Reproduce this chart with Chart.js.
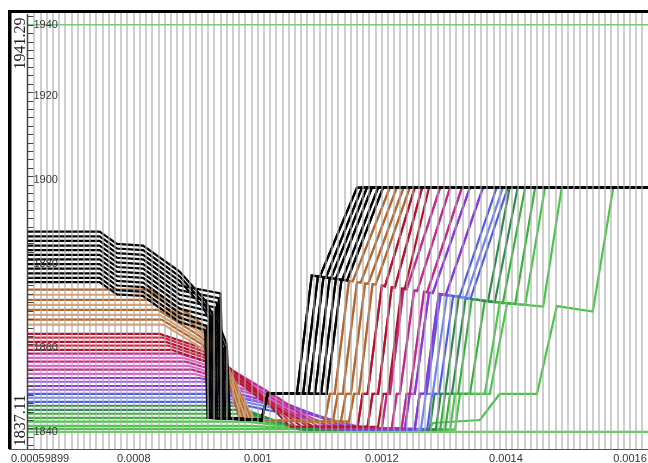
<!DOCTYPE html>
<html>
<head>
<meta charset="utf-8">
<script src="https://cdn.jsdelivr.net/npm/chart.js@4.4.0/dist/chart.umd.min.js"></script>
<style>
html,body{margin:0;padding:0;background:#fff;}
#wrap{width:648px;height:463px;}
</style>
</head>
<body>
<div id="wrap"><canvas id="c" width="648" height="463"></canvas></div>
<script>
// Temperature runs: each run is a list of [x, T] vertices, x given in units of 1e-5.
const X_UNIT = 1e-5;
const X_MIN = 0.00059899, X_MAX = 0.001629;
const Y_MIN = 1837.11, Y_MAX = 1941.29;

const blackRuns = [
  [[62.8,1888.8],[74.5,1888.8],[77.3,1885.9],[81.5,1885.5],[87.4,1879.3],[91.5,1872.5],[94.2,1865.0],[95.0,1862.0],[95.5,1844.5],[100.6,1844.0],[101.6,1850.2],[106.3,1850.2],[108.7,1878.4],[110.0,1878.1],[116.0,1899.3],[162.9,1899.3]],
  [[62.8,1887.7],[74.5,1887.7],[77.3,1884.8],[81.5,1884.4],[87.4,1878.2],[91.3,1871.8],[93.9,1864.5],[94.7,1861.5],[95.2,1844.5],[100.6,1844.0],[101.6,1850.2],[106.3,1850.2],[108.7,1878.4],[110.0,1878.1],[116.0,1899.3],[162.9,1899.3]],
  [[62.8,1886.6],[74.5,1886.6],[77.3,1883.7],[81.5,1883.3],[87.4,1877.1],[91.1,1871.0],[93.6,1864.0],[94.4,1861.0],[94.8,1844.5],[100.6,1844.0],[101.6,1850.2],[107.3,1850.2],[109.7,1878.2],[111.0,1877.9],[116.8,1899.3],[162.9,1899.3]],
  [[62.8,1885.5],[74.5,1885.5],[77.3,1882.6],[81.5,1882.2],[87.4,1876.0],[94.0,1874.1],[94.5,1844.5],[100.6,1844.0],[101.6,1850.2],[107.3,1850.2],[109.7,1878.2],[111.0,1877.9],[116.8,1899.3],[162.9,1899.3]],
  [[62.8,1884.4],[74.5,1884.4],[77.3,1881.5],[81.5,1881.1],[87.4,1874.9],[93.7,1873.0],[94.2,1844.5],[100.6,1844.0],[101.6,1850.2],[108.2,1850.2],[110.6,1878.0],[111.8,1877.7],[117.6,1899.3],[162.9,1899.3]],
  [[62.8,1883.3],[74.5,1883.3],[77.3,1880.4],[81.5,1880.0],[87.4,1873.8],[93.4,1871.9],[93.9,1844.5],[100.6,1844.0],[101.6,1850.2],[108.2,1850.2],[110.6,1878.0],[111.8,1877.7],[117.6,1899.3],[162.9,1899.3]],
  [[62.8,1882.2],[74.5,1882.2],[77.3,1879.3],[81.5,1878.9],[87.4,1872.7],[93.1,1870.8],[93.5,1844.5],[100.6,1844.0],[101.6,1850.2],[109.2,1850.2],[111.6,1877.8],[112.6,1877.6],[118.4,1899.3],[162.9,1899.3]],
  [[62.8,1881.1],[74.5,1881.1],[77.3,1878.2],[81.5,1877.8],[87.4,1871.6],[92.7,1869.7],[93.2,1844.5],[100.6,1844.0],[101.6,1850.2],[109.2,1850.2],[111.6,1877.8],[112.6,1877.6],[118.4,1899.3],[162.9,1899.3]],
  [[62.8,1880.0],[74.5,1880.0],[77.3,1877.1],[81.5,1876.7],[87.4,1870.5],[92.4,1868.6],[92.9,1844.5],[100.6,1844.0],[101.6,1850.2],[110.2,1850.2],[112.6,1877.6],[113.6,1877.3],[119.4,1899.3],[162.9,1899.3]],
  [[62.8,1878.9],[74.5,1878.9],[77.3,1876.0],[81.5,1875.6],[87.4,1869.4],[92.1,1867.5],[92.6,1844.5],[100.6,1844.0],[101.6,1850.2],[110.2,1850.2],[112.6,1877.6],[113.6,1877.3],[119.4,1899.3],[162.9,1899.3]],
  [[62.8,1877.8],[74.5,1877.8],[77.3,1874.9],[81.5,1874.5],[87.4,1868.3],[91.8,1866.4],[92.3,1844.5],[100.6,1844.0],[101.6,1850.2],[111.1,1850.2],[113.5,1877.4],[114.4,1877.2],[120.2,1899.3],[162.9,1899.3]],
  [[62.8,1876.8],[74.5,1876.8],[77.3,1873.9],[81.5,1873.5],[87.4,1867.3],[91.5,1865.4],[91.9,1844.5],[100.6,1844.0],[101.6,1850.2],[111.1,1850.2],[113.5,1877.4],[114.4,1877.2],[120.2,1899.3],[162.9,1899.3]]
];

const tanRuns = [
  [[62.8,1875.0],[82.6,1875.0],[89.0,1869.1],[93.1,1864.3],[97.1,1844.0],[110.8,1843.6],[111.6,1850.2],[112.4,1850.2],[114.7,1877.1],[115.3,1877.0],[121.3,1899.3],[162.9,1899.3]],
  [[62.8,1873.8],[82.9,1873.8],[89.4,1867.9],[93.4,1863.1],[97.4,1844.0],[110.8,1843.6],[111.6,1850.2],[112.4,1850.2],[114.7,1877.1],[115.3,1877.0],[121.3,1899.3],[162.9,1899.3]],
  [[62.8,1872.6],[83.2,1872.6],[89.7,1866.7],[93.7,1861.9],[97.7,1844.0],[112.1,1843.6],[112.9,1850.2],[113.7,1850.2],[116.0,1876.8],[116.6,1876.7],[122.4,1899.3],[162.9,1899.3]],
  [[62.8,1871.4],[83.5,1871.4],[90.0,1865.5],[94.0,1860.7],[98.1,1844.0],[112.1,1843.6],[112.9,1850.2],[113.7,1850.2],[116.0,1876.8],[116.6,1876.7],[122.4,1899.3],[162.9,1899.3]],
  [[62.8,1870.2],[83.9,1870.2],[90.3,1864.3],[94.4,1859.5],[98.4,1844.0],[113.4,1843.6],[114.2,1850.2],[115.0,1850.2],[117.3,1876.5],[117.8,1876.4],[123.5,1899.3],[162.9,1899.3]],
  [[62.8,1869.0],[84.2,1869.0],[90.6,1863.1],[94.7,1858.3],[98.7,1844.0],[113.4,1843.6],[114.2,1850.2],[115.0,1850.2],[117.3,1876.5],[117.8,1876.4],[123.5,1899.3],[162.9,1899.3]],
  [[62.8,1867.9],[84.5,1867.9],[91.0,1862.0],[95.0,1857.2],[99.0,1844.0],[114.7,1843.6],[115.5,1850.2],[116.3,1850.2],[118.5,1876.3],[119.0,1876.2],[124.5,1899.3],[162.9,1899.3]],
  [[62.8,1866.7],[84.8,1866.7],[91.3,1860.8],[95.3,1856.0],[99.4,1844.0],[114.7,1843.6],[115.5,1850.2],[116.3,1850.2],[118.5,1876.3],[119.0,1876.2],[124.5,1899.3],[162.9,1899.3]]
];

const redRuns = [
  [[62.8,1864.5],[84.2,1864.5],[91.5,1860.9],[98.7,1852.6],[105.2,1842.4],[116.1,1842.4],[116.9,1850.2],[117.7,1850.2],[120.0,1876.0],[120.5,1875.8],[125.3,1899.3],[162.9,1899.3]],
  [[62.8,1863.6],[84.7,1863.6],[91.9,1860.0],[99.2,1851.7],[106.1,1842.4],[116.1,1842.4],[116.9,1850.2],[117.7,1850.2],[120.0,1876.0],[120.5,1875.8],[125.3,1899.3],[162.9,1899.3]],
  [[62.8,1862.6],[85.2,1862.6],[92.4,1859.0],[99.7,1850.7],[107.1,1842.4],[117.7,1842.4],[118.5,1850.2],[119.4,1850.2],[121.6,1875.6],[122.1,1875.5],[126.5,1899.3],[162.9,1899.3]],
  [[62.8,1861.7],[85.6,1861.7],[92.9,1858.1],[100.2,1849.8],[108.1,1842.4],[117.7,1842.4],[118.5,1850.2],[119.4,1850.2],[121.6,1875.6],[122.1,1875.5],[126.5,1899.3],[162.9,1899.3]],
  [[62.8,1860.7],[86.1,1860.7],[93.4,1857.1],[100.6,1848.8],[109.0,1842.4],[119.4,1842.4],[120.2,1850.2],[121.0,1850.2],[123.2,1875.3],[123.7,1875.2],[127.6,1899.3],[162.9,1899.3]]
];

const magentaRuns = [
  [[62.8,1859.8],[87.4,1859.8],[95.5,1856.2],[103.5,1849.1],[110.0,1842.1],[120.0,1842.1],[120.8,1850.2],[121.3,1850.2],[123.5,1875.2],[124.0,1875.1],[129.4,1899.3],[162.9,1899.3]],
  [[62.8,1858.8],[87.9,1858.8],[96.0,1855.2],[104.2,1848.1],[111.0,1842.1],[120.0,1842.1],[120.8,1850.2],[121.3,1850.2],[123.5,1875.2],[124.0,1875.1],[129.4,1899.3],[162.9,1899.3]],
  [[62.8,1857.9],[88.4,1857.9],[96.5,1854.3],[104.8,1847.2],[111.9,1842.1],[121.6,1842.1],[122.4,1850.2],[122.9,1850.2],[125.2,1874.8],[125.7,1874.7],[131.0,1899.3],[162.9,1899.3]],
  [[62.8,1856.9],[88.9,1856.9],[96.9,1853.3],[105.5,1846.2],[112.9,1842.1],[121.6,1842.1],[122.4,1850.2],[122.9,1850.2],[125.2,1874.8],[125.7,1874.7],[131.0,1899.3],[162.9,1899.3]],
  [[62.8,1856.0],[89.4,1856.0],[97.4,1852.4],[106.1,1845.3],[113.9,1842.1],[123.2,1842.1],[124.0,1850.2],[124.5,1850.2],[126.8,1874.5],[127.3,1874.4],[132.9,1899.3],[162.9,1899.3]],
  [[62.8,1855.0],[89.8,1855.0],[97.9,1851.4],[106.8,1844.3],[114.8,1842.1],[123.2,1842.1],[124.0,1850.2],[124.5,1850.2],[126.8,1874.5],[127.3,1874.4],[132.9,1899.3],[162.9,1899.3]]
];

const purpleRuns = [
  [[62.8,1854.0],[90.6,1854.0],[100.3,1850.4],[114.8,1841.9],[123.7,1841.9],[124.5,1850.2],[125.3,1850.2],[127.6,1874.3],[128.2,1874.2],[134.2,1899.3],[162.9,1899.3]],
  [[62.8,1853.1],[91.3,1853.1],[101.0,1849.5],[115.8,1841.9],[123.7,1841.9],[124.5,1850.2],[125.3,1850.2],[127.6,1874.3],[128.2,1874.2],[134.2,1899.3],[162.9,1899.3]],
  [[62.8,1852.1],[91.9,1852.1],[101.6,1848.5],[116.8,1841.9],[125.3,1841.9],[126.1,1850.2],[126.9,1850.2],[129.2,1874.0],[130.3,1873.7],[136.3,1899.3],[162.9,1899.3]],
  [[62.8,1851.2],[92.6,1851.2],[102.3,1847.6],[117.7,1841.9],[125.3,1841.9],[126.1,1850.2],[126.9,1850.2],[129.2,1874.0],[130.3,1873.7],[136.3,1899.3],[162.9,1899.3]]
];

const blueRuns = [
  [[62.8,1850.2],[93.9,1850.2],[103.5,1847.3],[113.2,1841.7],[125.3,1841.7],[126.1,1850.2],[127.2,1850.2],[129.5,1873.9],[132.5,1873.3],[138.5,1899.3],[162.9,1899.3]],
  [[62.8,1849.3],[94.5,1849.3],[104.2,1846.4],[114.2,1841.7],[126.3,1841.7],[127.1,1850.2],[128.2,1850.2],[130.5,1873.7],[133.5,1873.1],[139.5,1899.3],[162.9,1899.3]],
  [[62.8,1848.3],[95.2,1848.3],[104.8,1845.4],[115.2,1841.7],[127.3,1841.7],[128.1,1850.2],[129.2,1850.2],[131.5,1873.5],[134.3,1872.9],[140.3,1899.3],[162.9,1899.3]]
];

const greenRuns = [
  [[62.8,1847.4],[96.3,1847.4],[106.8,1841.7],[127.7,1841.7],[128.5,1850.2],[130.2,1850.2],[132.4,1873.3],[137.1,1872.2],[140.6,1899.3],[162.9,1899.3]],
  [[62.8,1846.4],[96.8,1846.4],[107.6,1841.7],[128.7,1841.7],[129.5,1850.2],[131.3,1850.2],[133.5,1873.0],[138.2,1872.0],[141.9,1899.3],[162.9,1899.3]],
  [[62.8,1845.5],[97.3,1845.5],[108.4,1841.7],[129.4,1841.7],[130.2,1850.2],[132.3,1850.2],[134.5,1872.8],[139.5,1871.8],[143.1,1899.3],[162.9,1899.3]],
  [[62.8,1844.5],[97.7,1844.5],[109.2,1841.7],[130.2,1841.7],[131.0,1850.2],[134.2,1850.2],[136.6,1872.4],[141.5,1871.6],[144.7,1899.3],[162.9,1899.3]],
  [[62.8,1843.6],[98.2,1843.6],[110.0,1841.7],[131.0,1841.7],[131.8,1850.2],[136.6,1850.2],[139.0,1871.9],[143.1,1871.4],[146.3,1899.3],[162.9,1899.3]],
  [[62.8,1842.6],[98.7,1842.6],[110.8,1841.7],[131.8,1841.7],[132.6,1850.2],[137.4,1850.2],[140.2,1871.8],[146.0,1871.0],[149.0,1899.3],[162.9,1899.3]],
  [[62.8,1841.9],[127.7,1841.9],[128.2,1843.3],[135.8,1844.0],[139.0,1850.2],[145.0,1850.2],[148.2,1871.1],[154.0,1869.8],[157.3,1899.3],[162.9,1899.3]],
  [[62.8,1841.2],[162.9,1841.2]]
];

// Upper reference level drawn across the full range
const upperLevel = [[62.8,1938.0],[162.9,1938.0]];

const blackShades   = ['#050505'];
const tanShades     = ['#b5652a','#d8a36e'];
const redShades     = ['#b3122e','#d42a44'];
const magentaShades = ['#c2288a','#e05cc8'];
const purpleShades  = ['#8a36d8','#a65ae8'];
const blueShades    = ['#4b5ee6','#7280f2'];
const greenShades   = ['#2a8c4a','#2a8c4a','#36b336','#36b336','#44c944','#44c944','#44c944','#66cc66'];

const xTickValues = [0.00059899, 0.0008, 0.001, 0.0012, 0.0014, 0.0016];
const xTickLabels = ['0.00059899','0.0008','0.001','0.0012','0.0014','0.0016'];
const yTickValues = [1840, 1860, 1880, 1900, 1920, 1940];
const yTickLabels = ['1840','1860','1880','1900','1920','1940'];
const yRangeLabels = ['1941.29','1837.11'];

function toPoints(run) { return run.map(([u, t]) => ({ x: u * X_UNIT, y: t })); }

const datasets = [];
function addGroup(runs, shades, width) {
  runs.forEach((run, i) => datasets.push({
    data: toPoints(run),
    borderColor: shades[i % shades.length],
    borderWidth: width,
    pointRadius: 0,
    tension: 0,
    fill: false
  }));
}
addGroup(blackRuns, blackShades, 2.2);
addGroup(tanRuns, tanShades, 2.2);
addGroup(redRuns, redShades, 2.2);
addGroup(magentaRuns, magentaShades, 2.2);
addGroup(purpleRuns, purpleShades, 2.2);
addGroup(blueRuns, blueShades, 2.2);
addGroup(greenRuns, greenShades, 2.2);
addGroup([upperLevel], ['#6fcf6f'], 1.5);

const frame = {
  id: 'frame',
  afterDatasetsDraw(chart) {
    const { ctx, chartArea: a, scales: { x } } = chart;
    ctx.save();
    ctx.strokeStyle = 'rgba(170,170,170,0.58)';
    ctx.lineWidth = 2;
    for (let u = 64; u <= 162; u++) {
      const px = Math.round(x.getPixelForValue(u * X_UNIT));
      ctx.beginPath();
      ctx.moveTo(px, a.top);
      ctx.lineTo(px, a.bottom);
      ctx.stroke();
    }
    ctx.restore();
  },
  afterDraw(chart) {
    const { ctx, chartArea: a, scales: { x, y } } = chart;
    ctx.save();
    // outer frame
    ctx.fillStyle = '#000';
    ctx.fillRect(a.left - 1, a.top - 1, a.right - a.left + 2, 3);
    ctx.fillRect(a.left - 1, a.top - 1, 3.5, a.bottom - a.top + 1);
    // bottom axis line
    ctx.strokeStyle = '#555';
    ctx.lineWidth = 1;
    ctx.beginPath();
    ctx.moveTo(a.left, a.bottom + 0.5);
    ctx.lineTo(a.right, a.bottom + 0.5);
    ctx.stroke();
    // vertical value axis with minor ticks
    const axisX = a.left + 18.5;
    ctx.strokeStyle = '#444';
    ctx.lineWidth = 1.5;
    ctx.beginPath();
    ctx.moveTo(axisX, a.top + 3);
    ctx.lineTo(axisX, a.bottom);
    ctx.stroke();
    ctx.lineWidth = 1;
    for (let t = 1838; t <= 1940; t += 2) {
      const py = Math.round(y.getPixelForValue(t)) + 0.5;
      ctx.beginPath();
      ctx.moveTo(axisX, py);
      ctx.lineTo(axisX + 6, py);
      ctx.stroke();
    }
    ctx.fillStyle = '#3a3a3a';
    ctx.font = '11px "Liberation Sans", Arial, sans-serif';
    ctx.textAlign = 'left';
    ctx.textBaseline = 'middle';
    yTickValues.forEach((t, i) => {
      const py = Math.max(y.getPixelForValue(t) - 4.5, a.top + 14);
      ctx.fillText(yTickLabels[i], axisX + 6, py);
    });
    // range labels, rotated
    ctx.fillStyle = '#222';
    ctx.font = '16px "Liberation Serif", "DejaVu Serif", serif';
    ctx.textAlign = 'center';
    [[yRangeLabels[0], 43.5], [yRangeLabels[1], 420.5]].forEach(([txt, cy]) => {
      ctx.save();
      ctx.translate(20.5, cy);
      ctx.rotate(-Math.PI / 2);
      ctx.fillText(txt, 0, 0);
      ctx.restore();
    });
    // x tick labels
    ctx.fillStyle = '#333';
    ctx.font = '11px "Liberation Sans", Arial, sans-serif';
    xTickValues.forEach((v, i) => {
      const px = x.getPixelForValue(v);
      ctx.textAlign = i === 0 ? 'left' : 'center';
      ctx.fillText(xTickLabels[i], i === 0 ? px + 2 : px, a.bottom + 9.5);
    });
    ctx.restore();
  }
};

new Chart(document.getElementById('c'), {
  type: 'line',
  data: { datasets },
  options: {
    responsive: false,
    devicePixelRatio: 1,
    animation: false,
    parsing: true,
    layout: { padding: { left: 9, top: 11, right: 0, bottom: 14 } },
    plugins: { legend: { display: false }, tooltip: { enabled: false } },
    scales: {
      x: { type: 'linear', display: false, min: X_MIN, max: X_MAX },
      y: { type: 'linear', display: false, min: Y_MIN, max: Y_MAX }
    }
  },
  plugins: [frame]
});
</script>
</body>
</html>
